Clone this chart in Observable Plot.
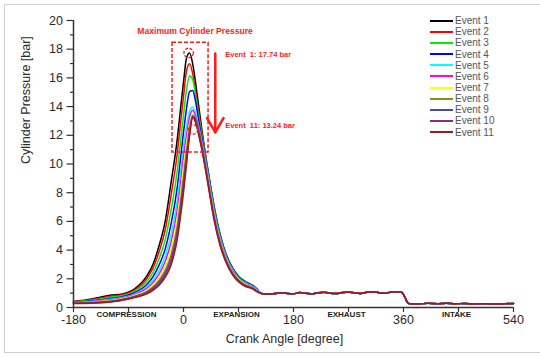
<!DOCTYPE html>
<html>
<head>
<meta charset="utf-8">
<script src="https://cdn.jsdelivr.net/npm/d3@7"></script>
<script src="https://cdn.jsdelivr.net/npm/@observablehq/plot@0.6"></script>
<style>
  html, body { margin: 0; padding: 0; background: #fff; overflow: hidden; }
  #wrap { position: relative; width: 540px; height: 357px; overflow: hidden; font-family: "Liberation Sans", Arial, sans-serif; }
  #frame { position: absolute; left: 4px; top: 4px; width: 560px; height: 349px; border: 1.5px solid #cfcfcf; box-sizing: border-box; pointer-events: none; }
  #chart { position: absolute; left: 0; top: 0; }
  #chart svg text { white-space: pre; }
  #legend { position: absolute; left: 430px; top: 15px; font-size: 10px; color: #555; }
  .row { height: 11.16px; display: flex; align-items: center; white-space: nowrap; }
  .sw { width: 23px; height: 0; border-top: 2px solid; margin-right: 2px; }
</style>
</head>
<body>
<div id="wrap">
  <div id="frame"></div>
  <div id="chart"></div>
  <div id="legend"></div>
</div>
<script>
// ---------- data ----------
const eventNames = ["Event 1","Event 2","Event 3","Event 4","Event 5","Event 6","Event 7","Event 8","Event 9","Event 10","Event 11"];
const eventColors = ["#000000","#ff0000","#00ee00","#0000ff","#00ffff","#ff00ff","#ffff00","#8a8a20","#4b4b9b","#8b2b8b","#9b1b1b"];

// crank angles for the compression / combustion / expansion part
const angles = [-180,-150,-120,-100,-80,-60,-50,-40,-30,-20,-10,-5,0,5,10,15,20,25,30,40,50,60,70,80,90,100,110,115,120,125];

const event1  = [0.42,0.60,0.85,0.95,1.30,2.20,3.00,4.30,6.00,8.80,11.8,13.8,15.7,17.4,17.74,17.0,15.6,14.0,12.4,9.50,7.00,5.02,3.64,2.75,2.16,1.82,1.59,1.48,1.28,1.05];
const event2  = [0.40,0.56,0.78,0.89,1.22,2.02,2.74,3.88,5.40,7.90,10.8,12.8,14.7,16.5,16.98,16.3,15.0,13.6,12.2,9.55,7.05,5.06,3.67,2.78,2.18,1.83,1.61,1.49,1.29,1.05];
const event3  = [0.38,0.51,0.71,0.82,1.13,1.81,2.43,3.40,4.71,6.87,9.60,11.5,13.4,15.2,16.15,15.9,14.7,13.3,12.0,9.60,7.10,5.10,3.70,2.80,2.20,1.85,1.62,1.50,1.30,1.05];
const event4  = [0.36,0.46,0.63,0.75,1.03,1.61,2.14,2.95,4.07,5.91,8.46,10.3,12.2,13.9,15.05,15.12,14.3,13.0,11.8,9.48,6.98,5.00,3.63,2.74,2.15,1.81,1.59,1.47,1.28,1.04];
const event5  = [0.34,0.42,0.57,0.69,0.95,1.45,1.90,2.58,3.55,5.14,7.53,9.30,11.2,12.7,13.7,13.98,13.5,12.6,11.6,9.30,6.80,4.86,3.52,2.65,2.08,1.75,1.54,1.43,1.24,1.04];
const event6  = [0.33,0.40,0.52,0.65,0.90,1.33,1.73,2.33,3.20,4.61,6.88,8.60,10.5,12.0,13.3,13.75,13.3,12.5,11.5,9.15,6.65,4.74,3.43,2.58,2.02,1.69,1.50,1.39,1.21,1.03];
const event7  = [0.32,0.37,0.48,0.61,0.84,1.22,1.58,2.10,2.88,4.14,6.29,7.97,9.80,11.4,12.8,13.45,13.1,12.3,11.3,9.00,6.50,4.62,3.34,2.50,1.96,1.64,1.46,1.35,1.18,1.02];
const event8  = [0.30,0.35,0.45,0.57,0.79,1.12,1.44,1.90,2.59,3.72,5.75,7.37,9.16,10.9,12.5,13.38,13.15,12.35,11.3,8.90,6.40,4.54,3.28,2.45,1.92,1.60,1.43,1.33,1.16,1.02];
const event9  = [0.30,0.33,0.42,0.54,0.76,1.06,1.35,1.77,2.41,3.45,5.40,6.98,8.73,10.6,12.3,13.32,13.05,12.25,11.2,8.80,6.30,4.46,3.22,2.40,1.88,1.57,1.40,1.30,1.14,1.01];
const event10 = [0.29,0.32,0.40,0.52,0.73,1.01,1.28,1.66,2.26,3.24,5.11,6.65,8.38,10.3,12.1,13.27,12.95,12.1,11.1,8.70,6.20,4.38,3.16,2.35,1.84,1.53,1.38,1.28,1.12,1.00];
const event11 = [0.28,0.30,0.38,0.50,0.70,0.95,1.20,1.55,2.10,3.00,4.80,6.30,8.00,10.0,12.0,13.24,12.85,12.0,11.0,8.60,6.10,4.30,3.10,2.30,1.80,1.50,1.35,1.25,1.10,1.00];
const eventPressures = [event1,event2,event3,event4,event5,event6,event7,event8,event9,event10,event11];

// exhaust + intake part (all events overlap)
const tailAngles   = [130,140,150,160,170,180,190,200,210,220,230,240,250,260,270,280,290,300,310,320,330,340,350,357,362,366,370,385,400,415,430,445,460,475,490,505,520,540];
const tailPressure = [0.95,0.93,0.98,1.03,0.98,0.96,1.04,1.00,0.95,1.02,1.06,1.00,0.97,1.04,1.08,1.01,0.98,1.06,1.10,1.02,0.99,1.08,1.10,1.06,0.75,0.38,0.26,0.25,0.29,0.27,0.30,0.26,0.28,0.25,0.27,0.24,0.25,0.28];

// axes
const yTicks = [0,2,4,6,8,10,12,14,16,18,20];
const yMinorTicks = [1,3,5,7,9,11,13,15,17,19];
const xTicks = [-180,0,180,360,540];
const phaseAngles = [-90,90,270,450];
const phaseLabels = ["COMPRESSION","EXPANSION","EXHAUST","INTAKE"];
const xTitle = "Crank Angle [degree]";
const yTitle = "Cylinder Pressure [bar]";

// annotations
const maxTitle = "Maximum Cylinder Pressure";
const maxTitleAngle = 19, maxTitlePressure = 19.25;
const boxAngles = [-18, 41];
const boxPressures = [10.8, 18.45];
const peakAngles = [8.4, 15.5];
const peakPressures = [17.74, 13.24];
const peakLabels = ["Event  1: 17.74 bar", "Event  11: 13.24 bar"];
const peakLabelPressures = [17.6, 12.65];
const arrowAngle = 52;
const arrowPressures = [17.7, 12.2];

// ---------- build ----------
const rows = [];
eventNames.forEach((name, i) => {
  angles.forEach((a, j) => rows.push({event: name, angle: a, p: eventPressures[i][j]}));
  tailAngles.forEach((a, j) => rows.push({event: name, angle: a, p: tailPressure[j]}));
});

const red = "#ff1a1a";
const plain = d => String(d);
const chart = Plot.plot({
  width: 540,
  height: 357,
  marginLeft: 73,
  marginRight: 27,
  marginTop: 20,
  marginBottom: 50,
  x: {domain: [xTicks[0], xTicks[xTicks.length - 1]]},
  y: {domain: [yTicks[0], yTicks[yTicks.length - 1]]},
  color: {domain: eventNames, range: eventColors},
  style: {fontFamily: "'Liberation Sans', Arial, sans-serif", fontSize: "12.5px", color: "#2a2a2a", background: "transparent", overflow: "visible"},
  marks: [
    Plot.axisY({ticks: yMinorTicks, tickSize: 3, text: null, label: null, stroke: "#333", strokeWidth: 1.2}),
    Plot.axisY({ticks: yTicks, tickSize: 6.5, tickPadding: 4, tickFormat: plain, label: null, stroke: "#333", strokeWidth: 1.2}),
    Plot.axisX({ticks: xTicks, tickSize: 5, tickPadding: 3, tickFormat: plain, label: null, stroke: "#333", strokeWidth: 1.2}),
    Plot.axisX({ticks: phaseAngles, tickSize: 5, text: null, label: null, stroke: "#333", strokeWidth: 1.2}),
    Plot.text(phaseLabels, {x: phaseAngles, frameAnchor: "bottom", dy: 9.5, text: d => d, fontSize: 8, fontWeight: "bold", fill: "#222", dx: -2}),
    Plot.text([yTitle], {frameAnchor: "left", rotate: -90, dx: -48, fontSize: 12.5, fill: "#2a2a2a"}),
    Plot.text([xTitle], {frameAnchor: "bottom", dy: 35, dx: -9, fontSize: 12.5, fill: "#2a2a2a"}),
    Plot.line(rows, {x: "angle", y: "p", z: "event", stroke: "event", strokeWidth: 1.5, curve: "monotone-x"}),
    Plot.ruleX([xTicks[0]], {y1: yTicks[0], y2: yTicks[yTicks.length - 1], stroke: "#333", strokeWidth: 1.5}),
    Plot.ruleY([yTicks[0]], {x1: xTicks[0], x2: xTicks[xTicks.length - 1], stroke: "#333", strokeWidth: 1.5}),
    // annotations
    Plot.rect([{x1: boxAngles[0], x2: boxAngles[1], y1: boxPressures[0], y2: boxPressures[1]}],
      {x1: "x1", x2: "x2", y1: "y1", y2: "y2", fill: "none", stroke: red, strokeWidth: 1.5, strokeDasharray: "4,2"}),
    Plot.dot([{a: peakAngles[0], p: peakPressures[0]}], {x: "a", y: "p", r: 4.7, fill: "none", stroke: red, strokeWidth: 1.3, strokeDasharray: "3,1.5"}),
    Plot.dot([{a: peakAngles[1], p: peakPressures[1]}], {x: "a", y: "p", r: 4.7, dy: 12, fill: "none", stroke: red, strokeWidth: 1.3, strokeDasharray: "3,1.5"}),
    Plot.arrow([{a: arrowAngle, p1: arrowPressures[0], p2: arrowPressures[1]}],
      {x1: "a", x2: "a", y1: "p1", y2: "p2", stroke: red, strokeWidth: 2.5, headLength: 10, headAngle: 60}),
    Plot.text(peakLabels, {x: peakLabels.map(() => arrowAngle), y: peakLabelPressures, text: d => d, dx: 10, textAnchor: "start", fill: red, fontSize: 7.5, fontWeight: "bold"}),
    Plot.text([maxTitle], {x: [maxTitleAngle], y: [maxTitlePressure], text: d => d, fill: red, fontSize: 8.6, fontWeight: "bold"})
  ]
});
document.getElementById("chart").appendChild(chart);

// legend
const legend = document.getElementById("legend");
eventNames.forEach((name, i) => {
  const row = document.createElement("div");
  row.className = "row";
  const sw = document.createElement("span");
  sw.className = "sw";
  sw.style.borderTopColor = eventColors[i];
  const t = document.createElement("span");
  t.textContent = name;
  row.appendChild(sw);
  row.appendChild(t);
  legend.appendChild(row);
});
</script>
</body>
</html>
